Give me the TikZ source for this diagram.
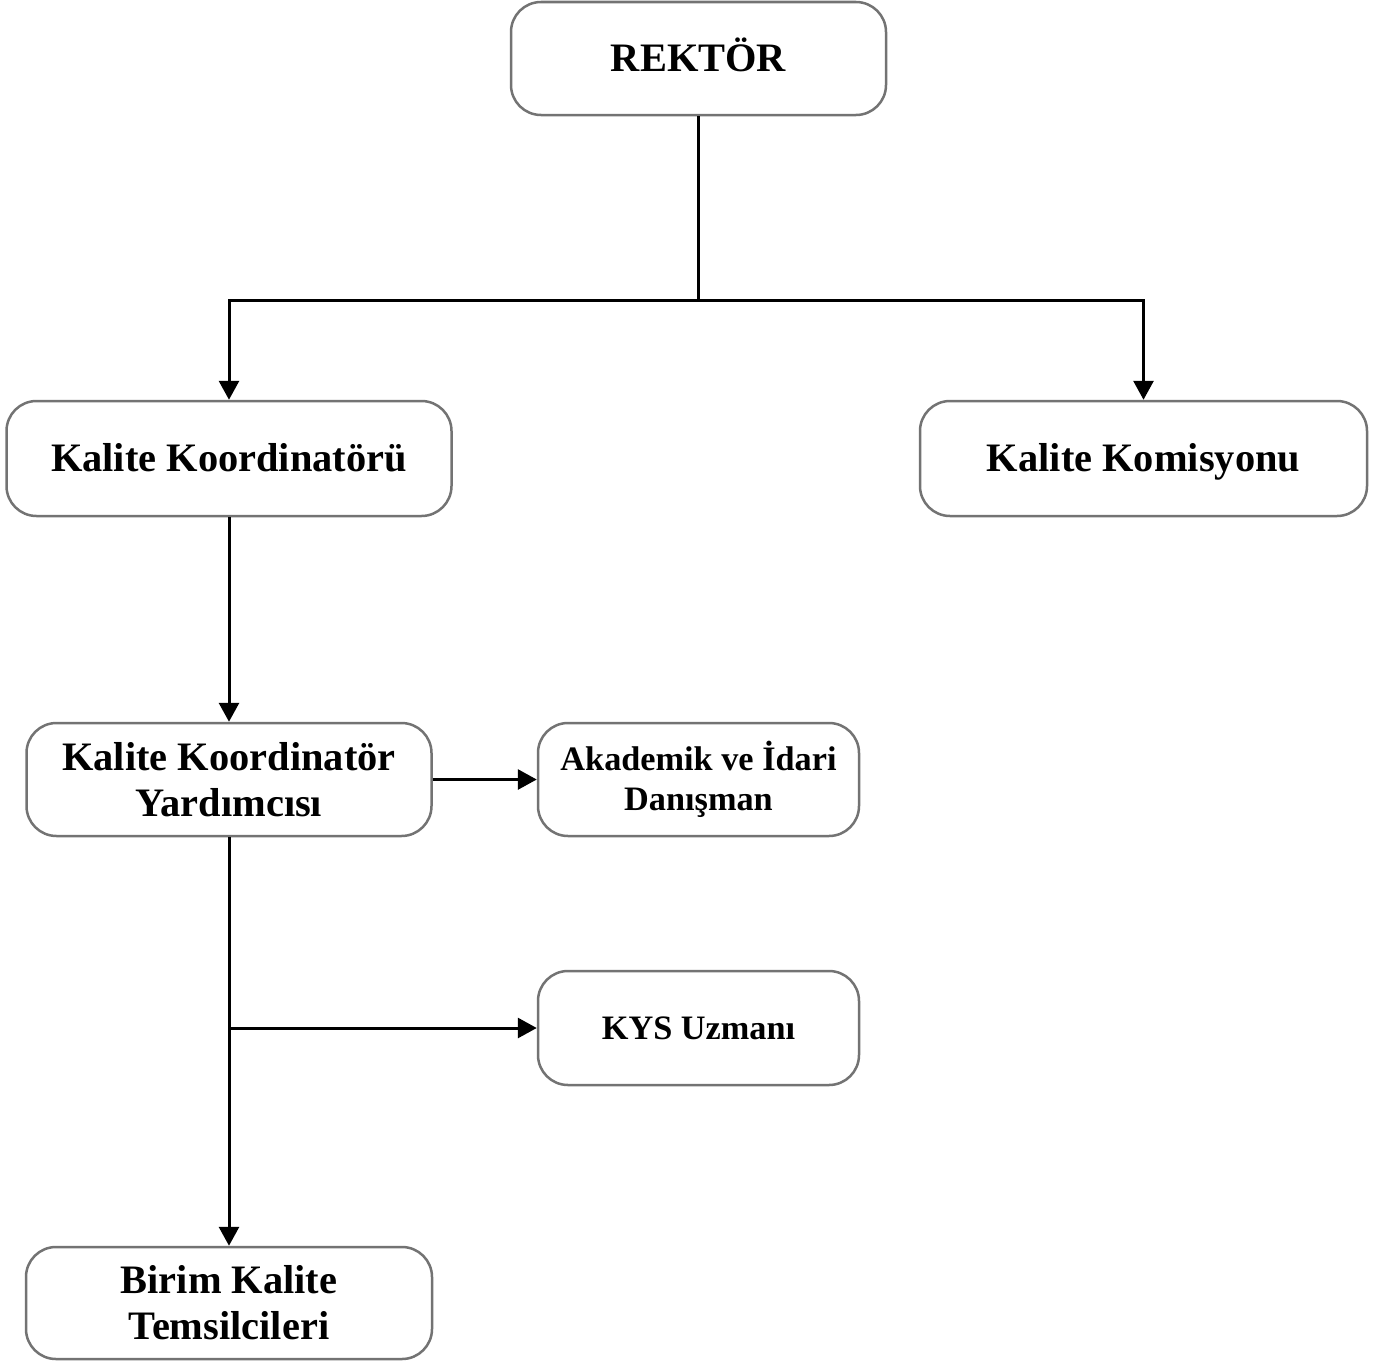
\documentclass[tikz,border=0pt]{standalone}
\usepackage{fontspec}
\setmainfont{Liberation Serif}
\usetikzlibrary{arrows.meta}

\begin{document}
\begin{tikzpicture}[
    kutu/.style={draw=black!55, line width=0.05cm, rounded corners=0.6cm, align=center,
        font=\fontsize{23}{26}\selectfont\bfseries, inner sep=0pt},
    kucuk/.style={font=\fontsize{19.5}{22.5}\selectfont\bfseries},
    tek/.style={text height=20.2pt, text depth=5pt},
    ok/.style={line width=0.06cm, -{Triangle[length=0.38cm,width=0.4cm]}},
    cizgi/.style={line width=0.06cm}
]
\useasboundingbox (0,0) rectangle (27.62,-27.22);

\node[kutu, tek, minimum width=7.5cm, minimum height=2.26cm] (rektor) at (13.97,-1.17) {REKTÖR};
\node[kutu, tek, minimum width=8.9cm, minimum height=2.3cm] (koord) at (4.58,-9.17) {Kalite Koordinatörü};
\node[kutu, tek, minimum width=8.94cm, minimum height=2.3cm] (komisyon) at (22.87,-9.17) {Kalite Komisyonu};
\node[kutu, minimum width=8.1cm, minimum height=2.26cm] (yard) at (4.58,-15.59) {Kalite Koordinatör\\Yardımcısı};
\node[kutu, kucuk, minimum width=6.42cm, minimum height=2.26cm] (danisman) at (13.97,-15.59) {Akademik ve İdari\\Danışman};
\node[kutu, kucuk, text height=17.9pt, text depth=5pt, minimum width=6.42cm, minimum height=2.28cm] (kys) at (13.97,-20.56) {KYS Uzmanı};
\node[kutu, minimum width=8.12cm, minimum height=2.24cm] (birim) at (4.58,-26.06) {Birim Kalite\\Temsilcileri};

% rektor -> koordinator, komisyon
\coordinate (ayrim) at (13.97,-6.0);
\draw [cizgi] (rektor.south) -- (ayrim);
\foreach \hedef in {koord, komisyon}
\draw [ok] (ayrim) -| (\hedef.north);

% koordinator -> yardimci
\draw [ok] (koord.south) -- (yard.north);
\draw [ok] (yard.east) -- (danisman.west);

% yardimci -> birim, kys
\draw [ok] (yard.south) -- (birim.north);
\coordinate (kol) at (yard.south |- kys.west);
\draw [ok] (kol) -- (kys.west);
\end{tikzpicture}
\end{document}
